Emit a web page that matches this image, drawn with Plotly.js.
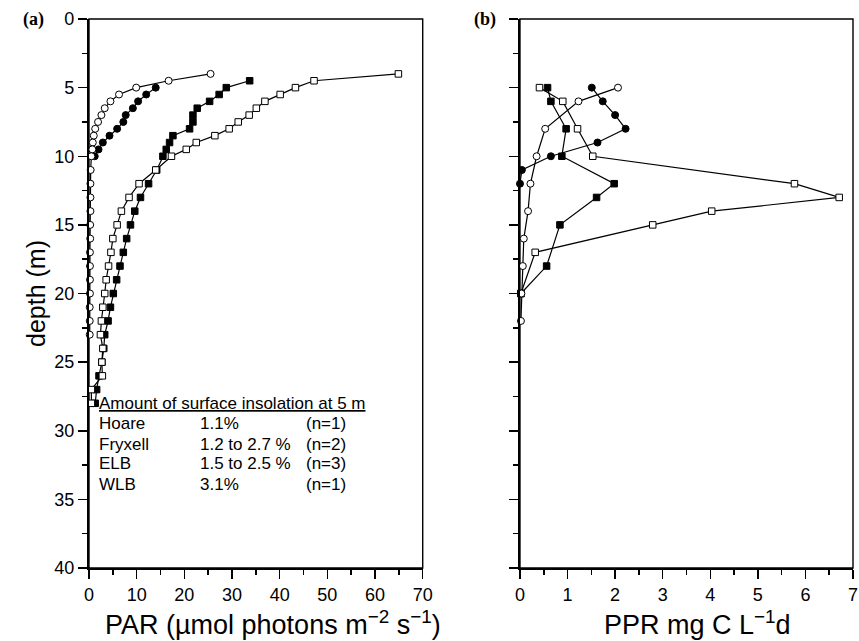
<!DOCTYPE html>
<html><head><meta charset="utf-8">
<script src="https://cdn.plot.ly/plotly-3.0.1.min.js"></script>
<style>html,body{margin:0;padding:0;background:#fff}#c{width:859px;height:641px}</style>
</head><body><div id="c"></div>
<script>
// Panel (a): PAR profiles (depth m, PAR umol photons m-2 s-1)
const hoareDepthA = [4,4.5,5,5.5,6,6.5,7,7.5,8,8.5,9,9.5,10,11,12,13,14,15,16,17,18,19,20,21,22,23];
const hoarePAR    = [25.5,16.7,9.9,6.3,4.5,3.3,2.6,1.9,1.3,1.0,0.8,0.7,0.5,0.35,0.3,0.3,0.3,0.25,0.25,0.2,0.2,0.2,0.2,0.15,0.15,0.15];
const fryxDepthA  = [5,5.5,6,6.5,7,7.5,8,8.5,9,9.5,10];
const fryxPAR     = [14.0,12.0,10.3,9.2,7.7,7.2,5.9,4.3,2.9,2.0,1.2];
const elbDepthA   = [4.5,5,5.5,6,6.5,7,7.5,8,8.5,9,9.5,10,11,12,13,14,15,16,17,18,19,20,21,22,23,24,25,26,27,28];
const elbPAR      = [33.7,28.8,27.3,25.3,22.7,21.8,21.8,21.1,17.6,16.9,16.2,15.5,14.2,12.5,10.8,9.6,8.7,7.9,7.2,6.5,5.8,5.1,4.5,4.0,3.3,3.1,2.7,2.1,1.6,1.3];
const wlbDepthA   = [4,4.5,5,5.5,6,6.5,7,7.5,8,8.5,9,9.5,10,11,12,13,14,15,16,17,18,19,20,21,22,23,24,25,26,27,28];
const wlbPAR      = [64.9,47.2,43.3,40.1,36.9,35.1,33.6,31.3,29.4,26.4,22.5,20.4,17.3,14.0,10.5,8.4,6.8,5.9,5.0,4.6,4.1,3.6,3.3,2.9,2.6,2.4,2.9,2.7,2.8,0.5,0.5];

// Panel (b): PPR profiles (depth m, mg C L-1 d-1)
const hoareDepthB = [5,6,8,10,12,14,16,18,20,22];
const hoarePPR    = [2.06,1.23,0.53,0.35,0.22,0.17,0.08,0.06,0.03,0.02];
const fryxDepthB  = [5,6,7,8,9,10,11,12];
const fryxPPR     = [1.51,1.74,2.0,2.22,1.63,0.65,0.04,0.0];
const elbDepthB   = [5,6,8,10,12,13,15,18,20];
const elbPPR      = [0.58,0.65,0.97,0.88,1.98,1.61,0.84,0.56,0.02];
const wlbDepthB   = [5,6,8,10,12,13,14,15,17,20];
const wlbPPR      = [0.41,0.90,1.21,1.53,5.77,6.71,4.03,2.79,0.32,0.02];

// Inset table text
const insetTitle = "Amount of surface insolation at 5 m";
const insetLakes = ["Hoare","Fryxell","ELB","WLB"];
const insetPct   = ["1.1%","1.2 to 2.7 %","1.5 to 2.5 %","3.1%"];
const insetN     = ["(n=1)","(n=2)","(n=3)","(n=1)"];

// Axis titles
const xTitleA = 'PAR (µmol photons m<sup>−2</sup> s<sup>−1</sup>)';
const xTitleB = 'PPR mg C L<sup>−1</sup>d';
const yTitleA = 'depth (m)';

const openC = {symbol:'circle', size:7, color:'#fff', line:{color:'#000', width:1}};
const fillC = {symbol:'circle', size:7, color:'#000', line:{color:'#000', width:1}};
const openS = {symbol:'square', size:6.5, color:'#fff', line:{color:'#000', width:1}};
const fillS = {symbol:'square', size:6.5, color:'#000', line:{color:'#000', width:1}};
const ln = {color:'#000', width:1.2};

function tr(x, y, m, xa, ya){
  return {x:x, y:y, mode:'lines+markers', marker:m, line:ln, xaxis:xa, yaxis:ya, cliponaxis:false, showlegend:false, hoverinfo:'skip'};
}
const data = [
  tr(elbPAR, elbDepthA, fillS, 'x', 'y'),
  tr(wlbPAR, wlbDepthA, openS, 'x', 'y'),
  tr(fryxPAR, fryxDepthA, fillC, 'x', 'y'),
  tr(hoarePAR, hoareDepthA, openC, 'x', 'y'),
  tr(wlbPPR, wlbDepthB, openS, 'x2', 'y2'),
  tr(elbPPR, elbDepthB, fillS, 'x2', 'y2'),
  tr(fryxPPR, fryxDepthB, fillC, 'x2', 'y2'),
  tr(hoarePPR, hoareDepthB, openC, 'x2', 'y2')
];

const tickFont = {family:'Liberation Sans, Arial, sans-serif', size:18, color:'#000'};
const xTitleFont = {family:'Liberation Sans, Arial, sans-serif', size:27, color:'#000'};
const yTitleFont = {family:'Liberation Sans, Arial, sans-serif', size:25, color:'#000'};
function xax(dom, rng, dt, mdt, anchor){
  return {domain:dom, range:rng, anchor:anchor, dtick:dt, tick0:0, ticks:'outside', ticklen:9, tickwidth:1.5,
    tickcolor:'#000', showline:true, linecolor:'#000', linewidth:2.2, mirror:false, showgrid:false, zeroline:false,
    tickfont:tickFont,
    minor:{dtick:mdt, ticks:'outside', ticklen:5, tickwidth:1.5, tickcolor:'#000', showgrid:false}};
}
function yax(dom, anchor, showlab, title){
  const a = {domain:dom, range:[40,0], anchor:anchor, dtick:5, tick0:0, ticks:'outside', ticklen:9, tickwidth:1.5,
    tickcolor:'#000', showline:true, linecolor:'#000', linewidth:2.2, showgrid:false, zeroline:false,
    showticklabels:showlab, tickfont:tickFont,
    minor:{dtick:2.5, ticks:'outside', ticklen:5, tickwidth:1.5, tickcolor:'#000', showgrid:false}};
  if (title) a.title = {text:title, font:yTitleFont, standoff:2};
  return a;
}

const ann = [];
const lf = {family:'Liberation Sans, Arial, sans-serif', size:17, color:'#000'};
ann.push({xref:'x', yref:'y', x:1.6, y:28.05, text:'<u>'+insetTitle+'</u>', showarrow:false, xanchor:'left', yanchor:'middle', font:lf});
const rowY = [29.5, 31.0, 32.4, 33.9];
for (let i=0;i<insetLakes.length;i++){
  ann.push({xref:'x', yref:'y', x:1.6, y:rowY[i], text:insetLakes[i], showarrow:false, xanchor:'left', yanchor:'middle', font:lf});
  ann.push({xref:'x', yref:'y', x:22.9, y:rowY[i], text:insetPct[i], showarrow:false, xanchor:'left', yanchor:'middle', font:lf});
  ann.push({xref:'x', yref:'y', x:45.0, y:rowY[i], text:insetN[i], showarrow:false, xanchor:'left', yanchor:'middle', font:lf});
}
// x-axis titles placed as annotations (offset as in the reference)
ann.push({xref:'paper', yref:'paper', x:0.2408, y:-0.100, text:xTitleA, showarrow:false, xanchor:'center', yanchor:'middle', font:xTitleFont});
ann.push({xref:'paper', yref:'paper', x:0.7965, y:-0.100, text:xTitleB, showarrow:false, xanchor:'center', yanchor:'middle', font:xTitleFont});

const pf = {family:'Liberation Serif, Times New Roman, serif', size:18, color:'#000'};
ann.push({xref:'paper', yref:'paper', x:-0.089, y:1.0, text:'<b>(a)</b>', showarrow:false, xanchor:'left', yanchor:'middle', font:pf});
ann.push({xref:'paper', yref:'paper', x:0.5013, y:1.0, text:'<b>(b)</b>', showarrow:false, xanchor:'left', yanchor:'middle', font:pf});

const frame = (xr, yr) => ({type:'rect', xref:xr+' domain', yref:yr+' domain', x0:0, x1:1, y0:0, y1:1, line:{color:'#000', width:1.4}, layer:'below'});

const layout = {
  width:859, height:641, margin:{l:89, r:6, t:19, b:73},
  paper_bgcolor:'#fff', plot_bgcolor:'#fff', showlegend:false,
  xaxis: xax([0, 0.4368], [0,70], 10, 5, 'y'),
  yaxis: yax([0,1], 'x', true, yTitleA),
  xaxis2: xax([0.5641, 1], [0,7], 1, 0.5, 'y2'),
  yaxis2: yax([0,1], 'x2', false, ''),
  annotations: ann,
  shapes: [frame('x','y'), frame('x2','y2')]
};
Plotly.newPlot('c', data, layout, {displayModeBar:false, staticPlot:true});
</script></body></html>
